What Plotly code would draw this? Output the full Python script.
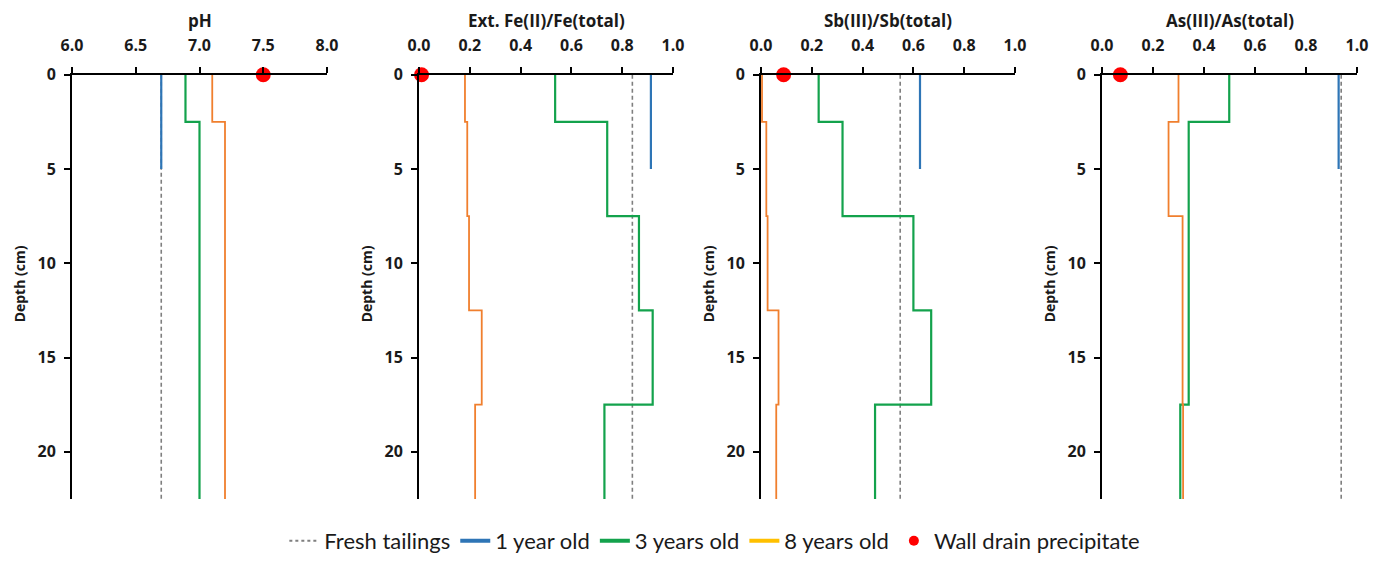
import plotly.graph_objects as go

W, H = 1380, 562

# ---------------- data ----------------
depth_tops = [0, 2.5, 7.5, 12.5, 17.5]
core_bottom = 22.5
one_year_bottom = 5.0

panel_titles = ["pH", "Ext. Fe(II)/Fe(total)", "Sb(III)/Sb(total)", "As(III)/As(total)"]

fresh_tailings = [6.70, 0.84, 0.548, 0.938]
one_year = [6.70, 0.913, 0.626, 0.928]
wall_drain = [7.50, 0.01, 0.089, 0.072]

ph_3yr = [6.89, 7.00, 7.00, 7.00, 7.00]
ph_8yr = [7.10, 7.20, 7.20, 7.20, 7.20]
fe_3yr = [0.536, 0.741, 0.866, 0.920, 0.730]
fe_8yr = [0.181, 0.190, 0.197, 0.247, 0.221]
sb_3yr = [0.227, 0.321, 0.600, 0.670, 0.449]
sb_8yr = [0.004, 0.021, 0.026, 0.069, 0.060]
as_3yr = [0.499, 0.340, 0.340, 0.340, 0.307]
as_8yr = [0.300, 0.261, 0.316, 0.316, 0.318]

three_years = [ph_3yr, fe_3yr, sb_3yr, as_3yr]
eight_years = [ph_8yr, fe_8yr, sb_8yr, as_8yr]

x_ranges = [[6.0, 8.0], [0.0, 1.0], [0.0, 1.0], [0.0, 1.0]]
x_dticks = [0.5, 0.2, 0.2, 0.2]
y_ticks = [0, 5, 10, 15, 20]

legend_names = ["Fresh tailings", "1 year old", "3 years old", "8 years old", "Wall drain precipitate"]

# ---------------- style ----------------
C_FRESH = "#7f7f7f"
C_1 = "#2E75B6"
C_3 = "#13A24C"
C_8 = "#F07F2E"
C_8_LEG = "#FFC000"
C_WALL = "#FF0000"

px_domains = [(72, 327), (419, 673), (761, 1015), (1102, 1357)]
y_top_px, y_bot_px = 76, 507
ydom = [1 - y_bot_px / H, 1 - y_top_px / H]

TICKFONT = dict(family="Open Sans", size=16, color="#1a1a1a", weight="bold")

fig = go.Figure()
annotations = []

for i in range(4):
    xa = "x" if i == 0 else f"x{i+1}"
    ya = "y" if i == 0 else f"y{i+1}"
    # fresh tailings
    fig.add_trace(go.Scatter(
        x=[fresh_tailings[i], fresh_tailings[i]], y=[0, core_bottom],
        mode="lines", line=dict(color=C_FRESH, width=1.6, dash="4px,3px"),
        xaxis=xa, yaxis=ya, showlegend=False))
    # 1 year old
    fig.add_trace(go.Scatter(
        x=[one_year[i], one_year[i]], y=[0, one_year_bottom],
        mode="lines", line=dict(color=C_1, width=2.2),
        xaxis=xa, yaxis=ya, showlegend=False))
    # 3 years old
    v3 = three_years[i]
    fig.add_trace(go.Scatter(
        x=v3 + [v3[-1]], y=depth_tops + [core_bottom],
        mode="lines", line=dict(color=C_3, width=2.2, shape="vh"),
        xaxis=xa, yaxis=ya, showlegend=False))
    # 8 years old
    v8 = eight_years[i]
    fig.add_trace(go.Scatter(
        x=v8 + [v8[-1]], y=depth_tops + [core_bottom],
        mode="lines", line=dict(color=C_8, width=1.8, shape="vh"),
        xaxis=xa, yaxis=ya, showlegend=False))
    # wall drain precipitate
    fig.add_trace(go.Scatter(
        x=[wall_drain[i]], y=[0], mode="markers",
        marker=dict(color=C_WALL, size=15), cliponaxis=False,
        xaxis=xa, yaxis=ya, showlegend=False))

    x0, x1 = px_domains[i]
    xkey = "xaxis" if i == 0 else f"xaxis{i+1}"
    ykey = "yaxis" if i == 0 else f"yaxis{i+1}"
    fig.layout[xkey] = dict(
        domain=[x0 / W, x1 / W], anchor=ya, side="top", automargin=False,
        range=x_ranges[i], dtick=x_dticks[i], tick0=x_ranges[i][0], tickformat=".1f",
        showline=True, linecolor="black", linewidth=2,
        ticks="outside", ticklen=6, tickwidth=2, tickcolor="black",
        showgrid=False, zeroline=False, tickfont=TICKFONT, ticklabelstandoff=9,
        fixedrange=True)
    fig.layout[ykey] = dict(
        domain=ydom, anchor=xa, range=[core_bottom, 0], automargin=False,
        tickvals=y_ticks, showline=True, linecolor="black", linewidth=2,
        ticks="outside", ticklen=6, tickwidth=2, tickcolor="black",
        showgrid=False, zeroline=False, tickfont=TICKFONT, ticklabelstandoff=5,
        fixedrange=True)

    annotations.append(dict(
        text=panel_titles[i], x=(x0 + x1) / 2 / W, y=1 - 21 / H,
        xref="paper", yref="paper", showarrow=False, xanchor="center", yanchor="middle",
        font=dict(family="Open Sans", size=17, color="#1a1a1a", weight="bold")))
    annotations.append(dict(
        text="Depth (cm)", x=(x0 - 53) / W, y=1 - 289 / H, textangle=-90,
        xref="paper", yref="paper", showarrow=False, xanchor="center", yanchor="middle",
        font=dict(family="Open Sans", size=14, color="#1a1a1a", weight="bold")))

# legend-only traces
fig.add_trace(go.Scatter(x=[None], y=[None], mode="lines", name=legend_names[0],
                         line=dict(color=C_FRESH, width=2, dash="dot")))
fig.add_trace(go.Scatter(x=[None], y=[None], mode="lines", name=legend_names[1],
                         line=dict(color=C_1, width=4)))
fig.add_trace(go.Scatter(x=[None], y=[None], mode="lines", name=legend_names[2],
                         line=dict(color=C_3, width=4)))
fig.add_trace(go.Scatter(x=[None], y=[None], mode="lines", name=legend_names[3],
                         line=dict(color=C_8_LEG, width=4)))
fig.add_trace(go.Scatter(x=[None], y=[None], mode="markers", name=legend_names[4],
                         marker=dict(color=C_WALL, size=10)))

fig.update_layout(
    width=W, height=H, margin=dict(l=0, r=0, t=0, b=0),
    paper_bgcolor="white", plot_bgcolor="white",
    annotations=annotations,
    showlegend=True,
    legend=dict(orientation="h", x=0.518, xanchor="center", y=1 - 550 / H, yanchor="middle",
                font=dict(family="Lato", size=22, color="#1a1a1a"),
                itemwidth=30, tracegroupgap=0, bgcolor="rgba(0,0,0,0)"),
)

fig.write_html("out.html")
